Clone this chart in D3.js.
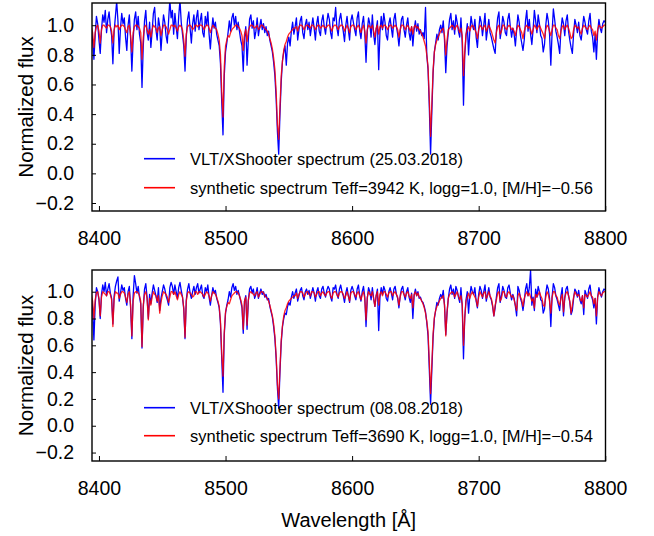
<!DOCTYPE html>
<html>
<head>
<meta charset="utf-8">
<script src="https://cdn.jsdelivr.net/npm/d3@7"></script>
<style>
  body { margin: 0; background: #fff; }
  svg { font-family: "Liberation Sans", Arial, sans-serif; }
</style>
</head>
<body>
<svg id="chart" width="654" height="536"></svg>
<script>
// wavelength grid, 1 A steps from 8390 to 8800
var wavelength = d3.range(8390, 8801, 1);
var xTicks = [8400, 8500, 8600, 8700, 8800];
var yTicks = [-0.2, 0.0, 0.2, 0.4, 0.6, 0.8, 1.0];

// observed spectrum 25.03.2018
var obs1 = [
  1.02,0.95,1.05,1.08,0.97,0.90,0.77,0.93,1.06,1.01,
  0.90,0.81,0.97,1.07,1.02,1.10,0.95,1.04,1.09,0.99,
  0.93,0.74,0.96,1.06,1.16,1.03,0.81,0.98,1.08,1.01,
  1.05,0.92,0.83,1.00,1.07,0.91,0.69,0.90,1.04,1.09,
  0.97,1.06,0.94,0.88,0.58,0.86,1.03,1.10,0.95,0.90,
  1.02,0.85,0.96,1.08,1.12,0.97,0.90,1.05,0.99,0.83,
  0.96,1.07,1.02,0.93,0.88,1.03,1.17,1.05,1.10,0.94,
  1.08,0.99,0.91,1.06,1.17,1.02,0.94,0.86,0.69,0.92,
  1.04,1.09,0.98,0.88,1.01,1.07,0.96,1.05,1.10,0.97,
  1.03,1.08,0.95,0.92,1.06,1.00,1.09,0.94,0.84,0.96,
  1.05,0.98,1.02,0.94,0.90,0.86,0.74,0.48,0.26,0.66,
  0.82,0.88,0.95,1.03,0.96,1.05,1.08,1.00,1.06,0.97,
  1.02,0.96,0.90,0.86,0.69,0.92,0.99,0.73,0.90,1.04,
  1.07,0.98,1.03,0.91,0.96,1.05,0.93,0.99,1.04,0.97,
  1.01,0.95,0.99,0.93,0.96,0.90,0.86,0.82,0.75,0.66,
  0.50,0.28,0.13,0.40,0.62,0.76,0.82,0.86,0.73,0.88,
  0.92,0.86,0.96,1.02,0.94,0.99,1.05,0.90,0.97,1.03,
  1.06,0.95,0.91,1.00,1.04,0.97,1.02,0.93,0.99,1.05,
  0.98,0.90,1.01,1.06,0.96,0.93,1.03,1.07,0.99,0.94,
  1.02,1.08,1.04,0.95,0.91,1.05,1.03,1.12,0.98,0.93,
  1.04,1.08,1.01,0.96,0.89,1.00,1.06,0.97,0.90,1.03,
  1.07,1.02,0.97,0.93,1.05,1.09,0.96,0.91,1.01,1.06,
  0.95,0.75,0.96,1.05,1.01,0.92,1.07,0.94,0.87,0.97,
  1.03,0.70,0.95,1.06,0.97,1.08,1.02,0.93,0.90,1.01,
  1.05,0.98,0.92,1.04,1.08,0.99,0.94,0.86,0.96,1.04,
  1.06,0.97,0.92,1.00,1.05,0.95,0.90,0.99,0.86,0.97,
  1.03,0.96,1.01,0.94,0.97,0.93,0.95,0.91,1.12,0.80,
  0.70,0.45,0.13,0.42,0.68,0.82,0.88,0.94,0.90,0.97,
  1.00,0.95,1.03,0.90,0.68,0.86,0.95,1.04,1.08,0.97,
  1.03,0.94,1.07,1.02,0.96,0.92,1.05,0.88,0.46,0.80,
  0.93,1.01,0.80,0.96,1.06,1.00,0.97,1.04,0.92,0.85,
  0.97,1.06,1.02,0.93,1.00,1.08,0.90,0.97,1.04,0.95,
  0.92,0.88,0.84,0.81,0.96,1.05,1.09,0.91,0.97,1.06,
  1.02,0.95,0.93,1.04,1.08,0.99,0.92,0.98,0.94,0.86,
  0.97,1.07,1.02,0.93,0.88,0.83,0.90,1.03,1.10,0.96,
  1.04,0.94,0.87,0.97,1.10,1.03,0.95,1.07,1.01,0.93,
  0.91,0.82,0.87,1.00,1.08,1.03,0.94,0.73,0.95,1.11,
  1.04,0.96,0.92,0.87,0.81,0.97,1.05,1.01,0.93,1.03,
  1.07,0.96,0.90,0.85,0.81,0.94,1.04,1.00,0.95,1.02,
  0.93,0.90,0.98,1.06,1.02,0.97,0.94,1.03,1.08,0.96,
  0.92,0.82,0.94,0.77,0.95,1.04,0.98,0.95,1.01,1.03,
  1.02
];

// synthetic spectrum Teff=3942 K
var syn1 = [
  1.00,1.00,0.99,0.98,0.99,0.95,0.85,0.95,0.99,1.00,
  0.96,0.88,0.97,1.00,1.00,0.99,0.98,1.00,1.00,0.99,
  0.96,0.88,0.97,1.00,0.99,1.00,0.97,0.99,1.00,1.00,
  0.99,0.97,0.95,0.99,1.00,0.93,0.82,0.95,0.99,1.00,
  1.00,0.99,0.98,0.95,0.77,0.92,0.99,1.00,0.97,0.94,
  0.97,0.92,0.97,1.00,0.99,0.98,0.95,0.98,0.99,0.93,
  0.97,1.00,1.00,0.99,0.97,0.94,0.97,1.00,1.00,0.99,
  1.00,0.98,0.96,0.99,1.00,0.99,0.97,0.90,0.79,0.94,
  0.99,1.00,1.00,0.99,0.97,0.98,1.00,1.00,0.99,1.00,
  1.00,1.00,0.99,0.97,0.99,1.00,1.00,0.98,0.95,0.98,
  1.00,0.99,0.98,0.97,0.94,0.90,0.80,0.55,0.38,0.72,
  0.86,0.90,0.93,0.92,0.95,0.97,0.98,0.99,1.00,1.00,
  0.99,0.98,0.96,0.93,0.83,0.94,0.97,0.89,0.96,0.99,
  1.00,1.00,0.99,0.98,0.99,1.00,0.97,0.98,1.00,1.00,
  0.99,0.98,0.97,0.96,0.94,0.91,0.88,0.84,0.78,0.70,
  0.55,0.33,0.23,0.45,0.66,0.76,0.83,0.87,0.89,0.92,
  0.94,0.95,0.96,0.97,0.98,0.98,0.99,0.96,0.99,1.00,
  1.00,0.99,0.97,0.99,1.00,1.00,0.99,0.98,1.00,1.00,
  0.99,0.97,0.99,1.00,1.00,0.98,0.99,1.00,0.99,0.98,
  0.99,1.00,1.00,0.98,0.96,0.99,1.00,1.00,0.99,0.97,
  0.99,1.00,1.00,0.99,0.96,0.98,1.00,0.98,0.95,0.99,
  1.00,1.00,0.99,0.97,0.99,1.00,0.98,0.95,0.98,1.00,
  0.96,0.88,0.97,1.00,0.99,0.98,1.00,0.96,0.92,0.98,
  1.00,0.94,0.99,1.00,0.98,1.00,1.00,0.99,0.97,0.99,
  1.00,1.00,0.98,0.99,1.00,0.99,0.97,0.92,0.97,1.00,
  1.00,0.99,0.97,0.99,1.00,0.98,0.96,0.99,0.94,0.99,
  1.00,0.98,0.99,0.97,0.96,0.94,0.92,0.89,0.86,0.80,
  0.72,0.50,0.25,0.47,0.70,0.82,0.87,0.90,0.92,0.94,
  0.96,0.97,0.98,0.93,0.80,0.90,0.97,0.98,0.99,1.00,
  0.99,0.97,0.99,1.00,0.98,0.95,0.98,0.93,0.66,0.82,
  0.94,0.97,0.99,0.96,0.99,1.00,0.99,0.97,0.95,0.91,
  0.97,1.00,0.99,0.97,0.99,1.00,0.96,0.98,1.00,0.98,
  0.96,0.93,0.90,0.88,0.95,0.99,1.00,0.94,0.96,1.00,
  1.00,0.98,0.97,0.99,1.00,0.99,0.97,0.98,0.96,0.93,
  0.97,1.00,0.99,0.97,0.95,0.91,0.96,0.99,1.00,0.98,
  0.99,0.97,0.94,0.97,1.00,0.99,0.97,0.99,1.00,0.98,
  0.96,0.94,0.91,0.97,1.00,0.99,0.96,0.93,0.97,1.00,
  1.00,0.98,0.97,0.93,0.91,0.96,0.99,1.00,0.97,0.99,
  1.00,0.98,0.95,0.91,0.92,0.97,1.00,0.99,0.98,0.99,
  0.96,0.94,0.98,1.00,0.99,0.98,0.97,0.99,1.00,0.98,
  0.97,0.93,0.96,0.90,0.97,1.00,0.99,0.98,0.99,1.00,
  1.00
];

// observed spectrum 08.08.2018
var obs2 = [
  1.01,0.97,1.04,1.02,0.95,0.88,0.64,0.90,1.03,1.00,
  0.94,0.80,0.98,1.05,1.00,1.07,0.97,1.02,1.06,0.99,
  0.95,0.76,0.97,1.04,1.08,1.11,0.93,0.99,1.05,1.01,
  1.03,0.95,0.90,1.00,1.04,0.88,0.65,0.97,1.12,1.06,
  0.99,1.04,0.96,0.91,0.58,0.88,1.02,1.06,0.96,0.80,
  0.98,0.91,0.99,1.05,1.01,0.97,0.92,1.03,0.86,0.95,
  1.00,1.05,1.02,0.97,0.94,0.90,1.03,1.07,1.04,0.98,
  1.05,1.00,0.95,1.03,1.07,1.01,0.96,0.87,0.65,0.94,
  1.02,1.06,0.99,0.95,1.00,1.04,0.98,1.03,1.06,0.99,
  1.02,1.05,0.97,0.95,1.03,1.00,1.05,0.96,0.90,0.97,
  1.03,0.99,1.01,0.95,0.92,0.88,0.76,0.50,0.25,0.68,
  0.84,0.90,0.94,1.00,0.96,1.03,1.06,1.01,1.04,0.98,
  1.01,0.97,0.93,0.88,0.69,0.93,0.97,0.72,0.93,1.02,
  1.04,0.99,1.02,0.95,0.98,1.03,0.95,0.99,1.02,0.98,
  1.00,0.96,0.98,0.94,0.95,0.89,0.85,0.81,0.74,0.65,
  0.50,0.28,0.13,0.40,0.62,0.74,0.80,0.84,0.83,0.89,
  0.92,0.90,0.96,1.00,0.95,0.99,1.02,0.93,0.97,1.01,
  1.03,0.97,0.94,1.00,1.02,0.98,1.01,0.95,0.99,1.03,
  0.99,0.93,1.00,1.03,0.97,0.95,1.02,1.04,0.99,0.96,
  1.01,1.04,1.02,0.96,0.93,1.03,1.02,1.05,0.98,0.95,
  1.02,1.05,1.00,0.97,0.92,0.99,1.03,0.97,0.92,1.01,
  1.04,1.01,0.97,0.94,1.02,1.05,0.97,0.93,1.00,1.04,
  0.96,0.74,0.95,1.03,1.00,0.94,1.03,0.95,0.89,0.97,
  1.02,0.71,0.96,1.03,0.98,1.04,1.01,0.95,0.93,1.00,
  1.03,0.99,0.94,1.02,1.04,0.98,0.95,0.88,0.97,1.02,
  1.04,0.98,0.94,1.00,1.03,0.96,0.92,0.99,0.80,0.97,
  1.02,0.97,1.00,0.95,0.96,0.93,0.92,0.89,0.85,0.77,
  0.67,0.42,0.16,0.42,0.66,0.80,0.86,0.92,0.90,0.95,
  0.98,0.95,1.01,0.90,0.68,0.84,0.95,1.02,1.05,0.98,
  1.02,0.95,1.04,1.01,0.96,0.92,1.03,0.89,0.50,0.81,
  0.94,1.00,0.84,0.97,1.04,1.00,0.98,1.03,0.93,0.88,
  0.98,1.04,1.01,0.95,1.00,1.05,0.93,0.98,1.03,0.96,
  0.94,0.89,0.82,0.88,0.96,1.03,1.06,0.92,0.97,1.04,
  1.01,0.96,0.95,1.03,1.05,0.99,0.94,0.98,0.95,0.89,
  0.82,1.04,1.01,0.95,0.92,0.86,0.93,1.02,1.06,0.97,
  1.03,1.16,0.90,0.96,0.86,1.02,0.96,1.04,1.00,0.94,
  0.93,0.84,0.87,0.99,1.05,1.02,0.95,0.74,0.96,1.06,
  1.03,0.97,0.94,0.90,0.86,0.97,1.03,0.82,0.95,1.02,
  1.04,0.97,0.92,0.83,0.86,0.95,1.02,1.00,0.96,1.01,
  0.94,0.91,0.97,0.83,1.01,0.98,0.95,1.02,1.05,0.97,
  0.94,0.88,0.95,0.76,0.96,1.03,0.99,0.96,1.00,1.02,
  1.01
];

// synthetic spectrum Teff=3690 K
var syn2 = [
  1.00,1.00,0.99,0.97,0.98,0.93,0.80,0.94,0.99,1.00,
  0.95,0.82,0.96,1.00,0.99,0.98,0.97,1.00,1.00,0.98,
  0.94,0.74,0.95,1.00,0.99,0.99,0.95,0.98,1.00,1.00,
  0.99,0.96,0.92,0.98,1.00,0.90,0.67,0.93,0.99,1.00,
  1.00,0.99,0.97,0.93,0.59,0.90,0.98,1.00,0.95,0.79,
  0.95,0.90,0.96,1.00,0.98,0.97,0.93,0.97,0.84,0.92,
  0.97,1.00,0.99,0.98,0.96,0.92,0.96,1.00,1.00,0.98,
  1.00,0.97,0.94,0.98,1.00,0.98,0.96,0.88,0.66,0.93,
  0.99,1.00,0.99,0.98,0.96,0.97,1.00,1.00,0.98,1.00,
  1.00,0.99,0.98,0.96,0.98,1.00,0.99,0.97,0.93,0.97,
  1.00,0.99,0.98,0.96,0.93,0.89,0.78,0.54,0.37,0.70,
  0.85,0.89,0.92,0.91,0.94,0.97,0.98,0.99,1.00,1.00,
  0.99,0.97,0.94,0.90,0.72,0.93,0.96,0.75,0.94,0.99,
  1.00,0.99,0.98,0.97,0.99,1.00,0.96,0.98,1.00,1.00,
  0.99,0.97,0.96,0.95,0.93,0.90,0.86,0.82,0.76,0.67,
  0.52,0.31,0.20,0.43,0.64,0.75,0.82,0.86,0.88,0.91,
  0.93,0.94,0.95,0.96,0.97,0.97,0.99,0.95,0.98,1.00,
  1.00,0.99,0.96,0.98,1.00,1.00,0.98,0.97,1.00,1.00,
  0.99,0.96,0.98,1.00,1.00,0.97,0.99,1.00,0.98,0.97,
  0.99,1.00,1.00,0.97,0.95,0.99,1.00,1.00,0.98,0.96,
  0.99,1.00,1.00,0.98,0.95,0.97,1.00,0.97,0.93,0.99,
  1.00,1.00,0.98,0.96,0.99,1.00,0.97,0.94,0.98,1.00,
  0.95,0.79,0.96,1.00,0.98,0.97,1.00,0.95,0.89,0.97,
  1.00,0.90,0.98,1.00,0.97,1.00,1.00,0.98,0.96,0.99,
  1.00,1.00,0.97,0.99,1.00,0.98,0.96,0.90,0.96,1.00,
  1.00,0.98,0.96,0.99,1.00,0.97,0.95,0.98,0.88,0.98,
  1.00,0.97,0.99,0.96,0.95,0.93,0.91,0.88,0.84,0.78,
  0.70,0.48,0.24,0.46,0.69,0.81,0.86,0.89,0.91,0.93,
  0.95,0.96,0.97,0.90,0.67,0.85,0.95,0.98,0.99,1.00,
  0.99,0.96,0.98,1.00,0.97,0.94,0.97,0.91,0.60,0.80,
  0.93,0.96,0.99,0.95,0.98,1.00,0.98,0.96,0.94,0.89,
  0.96,1.00,0.98,0.96,0.99,1.00,0.95,0.97,1.00,0.97,
  0.95,0.90,0.82,0.90,0.94,0.99,1.00,0.93,0.95,1.00,
  1.00,0.97,0.96,0.99,1.00,0.98,0.96,0.97,0.94,0.90,
  0.86,0.97,0.99,0.96,0.94,0.89,0.95,0.98,1.00,0.97,
  0.99,0.96,0.93,0.95,0.88,0.98,0.96,0.98,1.00,0.97,
  0.95,0.90,0.89,0.96,1.00,0.98,0.93,0.84,0.96,1.00,
  1.00,0.97,0.96,0.92,0.90,0.95,0.98,0.85,0.96,0.99,
  1.00,0.97,0.93,0.84,0.90,0.96,1.00,0.98,0.97,0.98,
  0.95,0.93,0.97,0.88,0.98,0.97,0.96,0.98,1.00,0.97,
  0.96,0.91,0.95,0.82,0.96,1.00,0.98,0.97,0.99,1.00,
  1.00
];

var legend1 = ["VLT/XShooter spectrum (25.03.2018)", "synthetic spectrum Teff=3942 K, logg=1.0, [M/H]=\u22120.56"];
var legend2 = ["VLT/XShooter spectrum (08.08.2018)", "synthetic spectrum Teff=3690 K, logg=1.0, [M/H]=\u22120.54"];

var svg = d3.select("#chart");

var left = 92, right = 605.5;
var x = d3.scaleLinear().domain([8394.5, 8800.2]).range([left, right]);

var panels = [
  { top: 3, bottom: 211, yDomain: [-0.254, 1.150], obs: obs1, syn: syn1, legend: legend1, legendY: [158.7, 187.7] },
  { top: 270, bottom: 461, yDomain: [-0.263, 1.162], obs: obs2, syn: syn2, legend: legend2, legendY: [407.7, 435.7] }
];

panels.forEach(function (p, i) {
  var y = d3.scaleLinear().domain(p.yDomain).range([p.bottom, p.top]);

  svg.append("clipPath")
    .attr("id", "clip" + i)
    .append("rect")
    .attr("x", left).attr("y", p.top)
    .attr("width", right - left).attr("height", p.bottom - p.top);

  var line = d3.line()
    .x(function (d) { return x(d[0]); })
    .y(function (d) { return y(d[1]); });

  var plot = svg.append("g").attr("clip-path", "url(#clip" + i + ")");

  plot.append("path")
    .datum(d3.zip(wavelength, p.obs))
    .attr("d", line)
    .attr("fill", "none")
    .attr("stroke", "#0000ff")
    .attr("stroke-width", 1.3)
    .attr("stroke-linejoin", "round");

  plot.append("path")
    .datum(d3.zip(wavelength, p.syn))
    .attr("d", line)
    .attr("fill", "none")
    .attr("stroke", "#ff0000")
    .attr("stroke-opacity", 0.85)
    .attr("stroke-width", 1.3)
    .attr("stroke-linejoin", "round");

  // axes, ticks point into the frame
  var xAxis = svg.append("g")
    .attr("transform", "translate(0," + p.bottom + ")")
    .call(d3.axisBottom(x).tickValues(xTicks).tickSizeInner(-5).tickSizeOuter(0).tickPadding(20).tickFormat(d3.format("d")));
  xAxis.select(".domain").remove();
  xAxis.selectAll("text").attr("font-size", "19.5px").attr("fill", "#000").attr("font-family", null);

  var yAxis = svg.append("g")
    .attr("transform", "translate(" + left + ",0)")
    .call(d3.axisLeft(y).tickValues(yTicks).tickSizeInner(-4).tickSizeOuter(0).tickPadding(18).tickFormat(d3.format(".1f")));
  yAxis.select(".domain").remove();
  yAxis.selectAll("text").attr("font-size", "19.5px").attr("fill", "#000").attr("font-family", null);

  svg.append("rect")
    .attr("x", left).attr("y", p.top)
    .attr("width", right - left).attr("height", p.bottom - p.top)
    .attr("fill", "none")
    .attr("stroke", "#000")
    .attr("stroke-width", 1.4);

  svg.append("text")
    .attr("transform", "translate(33," + ((p.top + p.bottom) / 2) + ") rotate(-90)")
    .attr("text-anchor", "middle")
    .attr("font-size", "20.5px")
    .text("Normalized flux");

  // legend
  var colors = ["#0000ff", "#ff0000"];
  p.legend.forEach(function (label, k) {
    svg.append("line")
      .attr("x1", 144).attr("x2", 175)
      .attr("y1", p.legendY[k]).attr("y2", p.legendY[k])
      .attr("stroke", colors[k])
      .attr("stroke-width", 1.6);
    svg.append("text")
      .attr("x", 190).attr("y", p.legendY[k])
      .attr("dy", "0.36em")
      .attr("font-size", "16.5px")
      .text(label);
  });
});

svg.append("text")
  .attr("x", (left + right) / 2)
  .attr("y", 527)
  .attr("text-anchor", "middle")
  .attr("font-size", "20px")
  .text("Wavelength [\u00c5]");
</script>
</body>
</html>
